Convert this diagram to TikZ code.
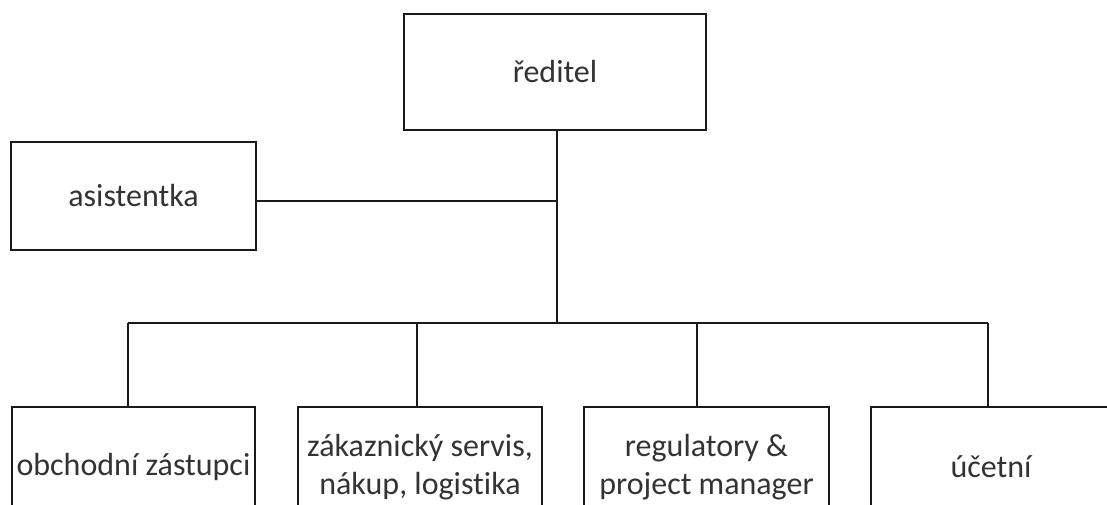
\documentclass[tikz,border=0pt]{standalone}
\usepackage{fontspec}
\setmainfont[Ligatures={NoCommon}]{Carlito}
\definecolor{linec}{HTML}{1A1A1A}
\definecolor{textc}{HTML}{333333}
\begin{document}
\begin{tikzpicture}[x=1pt,y=-1pt,
  box/.style={draw=linec,line width=1.5pt,rectangle,inner sep=0pt,align=center,
    text=textc,font=\fontsize{32}{38}\selectfont},
  conn/.style={draw=linec,line width=1.5pt}]
\useasboundingbox (0,0) rectangle (1107,504);
\clip (0,0) rectangle (1107,504);
\fill[white] (0,0) rectangle (1107,504);
\node[box,minimum width=302pt,minimum height=116pt] (dir) at (555,72) {ředitel};
\node[box,minimum width=245pt,minimum height=108pt] (asis) at (133.5,196) {asistentka};
\node[box,minimum width=243pt,minimum height=120pt] (o1) at (133.5,467) {obchodní zástupci};
\node[box,minimum width=244pt,minimum height=120pt] (o2) at (420,467) {zákaznický servis,\\nákup, logistika};
\node[box,minimum width=245pt,minimum height=120pt] (o3) at (706.5,467) {regulatory \&\\project manager};
\node[box,minimum width=240pt,minimum height=120pt] (o4) at (991,467) {účetní};
\coordinate (t) at (557,323);
\coordinate (aj) at (557,201);
\coordinate (b1) at (128,323);
\coordinate (b2) at (417,323);
\coordinate (b3) at (697,323);
\coordinate (b4) at (988,323);
\draw[conn] (t |- dir.south) -- (t);
\draw[conn] (aj -| asis.east) -- (aj);
\draw[conn] (b1) -- (b4);
\draw[conn] (b1) -- (b1 |- o1.north);
\draw[conn] (b2) -- (b2 |- o2.north);
\draw[conn] (b3) -- (b3 |- o3.north);
\draw[conn] (b4) -- (b4 |- o4.north);
\end{tikzpicture}
\end{document}
